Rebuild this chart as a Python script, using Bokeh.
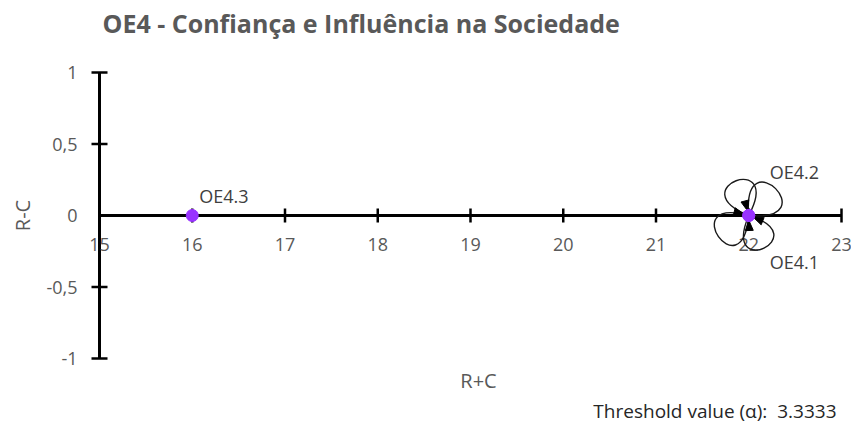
import math
from bokeh.plotting import figure
from bokeh.embed import file_html
from bokeh.resources import INLINE
from bokeh.core.properties import value

# ---------------- data ----------------
names = ["OE4.1", "OE4.2", "OE4.3"]
r_plus_c = [22.0, 22.0, 16.0]
r_minus_c = [0.0, 0.0, 0.0]
self_loop_nodes = ["OE4.1", "OE4.2"]

x_ticks = [15, 16, 17, 18, 19, 20, 21, 22, 23]
x_tick_labels = ["15", "16", "17", "18", "19", "20", "21", "22", "23"]
y_ticks = [-1, -0.5, 0, 0.5, 1]
y_tick_labels = ["-1", "-0,5", "0", "0,5", "1"]

title_text = "OE4 - Confiança e Influência na Sociedade"
x_label = "R+C"
y_label = "R-C"
threshold = 3.3333

# ---------------- geometry (canvas pixels) ----------------
W, H = 851, 423
px_x0, px_x1 = 99, 841      # canvas px of x = 15 and x = 23
py_y1, py_ym1 = 72, 358     # canvas px of y = 1 and y = -1
xmin, xmax = min(x_ticks), max(x_ticks)
ymin, ymax = min(y_ticks), max(y_ticks)
sx = (px_x1 - px_x0) / (xmax - xmin)
sy = (py_ym1 - py_y1) / (ymax - ymin)
x_start = xmin - px_x0 / sx
y_top = ymax + py_y1 / sy


def X(px):
    return x_start + px / sx


def Y(py):
    return y_top - py / sy


def dxd(ox):
    return ox / sx


def dyd(oy):
    return -oy / sy


p = figure(width=W, height=H, x_range=(X(0), X(W)), y_range=(Y(H), Y(0)),
           x_axis_type=None, y_axis_type=None, toolbar_location=None,
           output_backend="svg", min_border=0, outline_line_color=None)
p.min_border_left = p.min_border_right = p.min_border_top = p.min_border_bottom = 0
p.grid.visible = False
p.background_fill_color = "white"
p.border_fill_color = "white"

GRAY = "#595959"
FONT = value("Open Sans")

# ---------------- axes ----------------
p.segment(x0=[xmin], y0=[0], x1=[xmax], y1=[0], line_color="black", line_width=3)
p.segment(x0=[xmin], y0=[ymin], x1=[xmin], y1=[ymax], line_color="black", line_width=3)

xt = [t for t in x_ticks if t != xmin]
p.segment(x0=xt, y0=[dyd(7)] * len(xt), x1=xt, y1=[dyd(-7)] * len(xt),
          line_color="black", line_width=2.5)
yt = [t for t in y_ticks if t != 0]
p.segment(x0=[xmin - dxd(8)] * len(yt), y0=yt, x1=[xmin + dxd(8)] * len(yt), y1=yt,
          line_color="black", line_width=2.5)

# tick labels
p.text(x=x_ticks, y=[dyd(29)] * len(x_ticks), text=x_tick_labels,
       text_font=FONT, text_font_size="18px", text_color=GRAY,
       text_align="center", text_baseline="middle")
p.text(x=[xmin - dxd(22)] * len(y_ticks), y=y_ticks, text=y_tick_labels,
       text_font=FONT, text_font_size="18px", text_color=GRAY,
       text_align="right", text_baseline="middle")

# axis titles
p.text(x=[X(22)], y=[0], text=[y_label], angle=math.pi / 2,
       text_font=FONT, text_font_size="20px", text_color=GRAY,
       text_align="center", text_baseline="middle")
p.text(x=[X(478)], y=[Y(380)], text=[x_label],
       text_font=FONT, text_font_size="20px", text_color=GRAY,
       text_align="center", text_baseline="middle")

# chart title
p.text(x=[X(102)], y=[Y(22)], text=[title_text],
       text_font=FONT, text_font_size="25px", text_font_style="bold",
       text_color=GRAY, text_align="left", text_baseline="middle")

# threshold note
p.text(x=[X(836)], y=[Y(410)],
       text=[f"Threshold value (\u03b1):\u00a0\u00a0{threshold:.4f}"],
       text_font=FONT, text_font_size="19px", text_color="#262626",
       text_align="right", text_baseline="middle")

# ---------------- self loops on OE4.1 / OE4.2 ----------------
loop_x = [r_plus_c[names.index(n)] for n in self_loop_nodes]
loop_y = [r_minus_c[names.index(n)] for n in self_loop_nodes]
cx, cy = sum(loop_x) / len(loop_x), sum(loop_y) / len(loop_y)

petals = [(-110, 37, 48), (-45, 38, 50), (145, 37, 50), (65, 36, 48)]
bx0, by0, bx1, by1, c0x, c0y, c1x, c1y = [], [], [], [], [], [], [], []
for ang, reach, spread in petals:
    L = reach / (0.75 * math.cos(math.radians(spread)))
    a0 = math.radians(ang - spread)
    a1 = math.radians(ang + spread)
    bx0.append(cx); by0.append(cy); bx1.append(cx); by1.append(cy)
    c0x.append(cx + dxd(L * math.cos(a0))); c0y.append(cy + dyd(L * math.sin(a0)))
    c1x.append(cx + dxd(L * math.cos(a1))); c1y.append(cy + dyd(L * math.sin(a1)))
p.bezier(x0=bx0, y0=by0, x1=bx1, y1=by1, cx0=c0x, cy0=c0y, cx1=c1x, cy1=c1y,
         line_color="#1a1a1a", line_width=1.4)

# arrowheads pointing into the node
arrow_dirs = [-105, -165, 22, 88]
axs, ays = [], []
for d in arrow_dirs:
    r = math.radians(d)
    ux, uy = math.cos(r), math.sin(r)
    tip, base, hw = 5.0, 15.0, 4.0
    bxp, byp = base * ux, base * uy
    pts = [(tip * ux, tip * uy), (bxp - hw * uy, byp + hw * ux), (bxp + hw * uy, byp - hw * ux)]
    axs.append([cx + dxd(a) for a, b in pts])
    ays.append([cy + dyd(b) for a, b in pts])
p.patches(xs=axs, ys=ays, fill_color="black", line_color="black", line_width=1)

# ---------------- nodes ----------------
p.scatter(x=r_plus_c, y=r_minus_c, size=12, marker="circle",
          fill_color="#9933FF", line_color="#9933FF")

label_off = {"OE4.1": (21, 46), "OE4.2": (21, -44), "OE4.3": (7, -20)}
lx = [r_plus_c[i] + dxd(label_off[n][0]) for i, n in enumerate(names)]
ly = [r_minus_c[i] + dyd(label_off[n][1]) for i, n in enumerate(names)]
p.text(x=lx, y=ly, text=names, text_font=FONT, text_font_size="18px",
       text_color="#404040", text_align="left", text_baseline="middle")

open("out.html", "w").write(file_html(p, INLINE))
